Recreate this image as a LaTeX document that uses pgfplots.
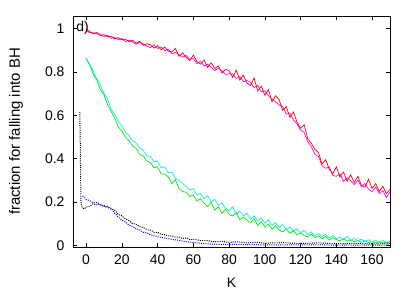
\documentclass[border=0pt]{standalone}
\usepackage{fontspec}
\setmainfont{Liberation Sans}
\usepackage{pgfplots}
\pgfplotsset{compat=1.18}
\usepackage{pgfplotstable}

\definecolor{gpred}{RGB}{255,0,0}
\definecolor{gpmag}{RGB}{255,0,255}
\definecolor{gpgreen}{RGB}{0,230,0}
\definecolor{gpcyan}{RGB}{0,240,240}
\definecolor{gpblue}{RGB}{0,0,255}

% fraction vs K, one table per curve
\pgfplotstableread{
K f
0 0.992
2 0.982
4 0.980
6 0.978
8 0.968
10 0.972
12 0.962
14 0.965
16 0.952
18 0.958
20 0.948
22 0.951
24 0.940
26 0.946
28 0.933
30 0.941
32 0.922
34 0.930
36 0.925
38 0.910
40 0.921
42 0.902
44 0.915
46 0.896
48 0.892
50 0.908
52 0.872
54 0.888
56 0.866
58 0.852
60 0.878
62 0.848
64 0.836
66 0.855
68 0.820
70 0.842
72 0.815
74 0.828
76 0.795
78 0.812
80 0.805
82 0.775
84 0.808
86 0.762
88 0.785
90 0.748
92 0.738
94 0.772
96 0.712
98 0.735
100 0.692
102 0.718
104 0.662
106 0.690
108 0.672
110 0.622
112 0.640
114 0.590
116 0.615
118 0.568
120 0.540
122 0.556
124 0.492
126 0.470
128 0.442
130 0.428
132 0.375
134 0.395
136 0.352
138 0.330
140 0.362
142 0.315
144 0.338
146 0.296
148 0.325
150 0.290
152 0.318
154 0.278
156 0.268
158 0.305
160 0.262
162 0.285
164 0.248
166 0.272
168 0.238
170 0.258
}\redtab

\pgfplotstableread{
K f
0 0.998
2 0.988
4 0.975
6 0.982
8 0.972
10 0.962
12 0.970
14 0.955
16 0.960
18 0.948
20 0.954
22 0.940
24 0.946
26 0.938
28 0.928
30 0.936
32 0.930
34 0.918
36 0.912
38 0.925
40 0.908
42 0.915
44 0.898
46 0.905
48 0.884
50 0.890
52 0.880
54 0.868
56 0.876
58 0.858
60 0.862
62 0.838
64 0.850
66 0.828
68 0.835
70 0.820
72 0.806
74 0.818
76 0.805
78 0.788
80 0.792
82 0.790
84 0.770
86 0.778
88 0.755
90 0.760
92 0.752
94 0.728
96 0.738
98 0.708
100 0.712
102 0.690
104 0.675
106 0.662
108 0.648
110 0.640
112 0.605
114 0.610
116 0.578
118 0.560
120 0.532
122 0.520
124 0.478
126 0.455
128 0.420
130 0.410
132 0.368
134 0.355
136 0.362
138 0.322
140 0.318
142 0.330
144 0.295
146 0.312
148 0.298
150 0.280
152 0.300
154 0.270
156 0.285
158 0.258
160 0.248
162 0.268
164 0.238
166 0.252
168 0.220
170 0.245
}\magtab

\pgfplotstableread{
K f
0 0.865
2 0.832
4 0.790
6 0.762
8 0.718
10 0.695
12 0.650
14 0.618
16 0.588
18 0.545
20 0.528
22 0.498
24 0.482
26 0.458
28 0.448
30 0.418
32 0.412
34 0.388
36 0.382
38 0.358
40 0.362
42 0.330
44 0.328
46 0.315
48 0.285
50 0.302
52 0.262
54 0.248
56 0.245
58 0.225
60 0.232
62 0.205
64 0.215
66 0.195
68 0.178
70 0.198
72 0.162
74 0.178
76 0.148
78 0.165
80 0.142
82 0.135
84 0.152
86 0.118
88 0.130
90 0.115
92 0.105
94 0.122
96 0.092
98 0.108
100 0.085
102 0.098
104 0.075
106 0.090
108 0.070
110 0.062
112 0.075
114 0.055
116 0.068
118 0.048
120 0.058
122 0.045
124 0.038
126 0.052
128 0.035
130 0.044
132 0.030
134 0.040
136 0.024
138 0.035
140 0.026
142 0.020
144 0.030
146 0.018
148 0.025
150 0.016
152 0.022
154 0.014
156 0.020
158 0.012
160 0.017
162 0.010
164 0.016
166 0.010
168 0.014
170 0.011
}\greentab

\pgfplotstableread{
K f
0 0.860
2 0.838
4 0.805
6 0.768
8 0.740
10 0.702
12 0.675
14 0.628
16 0.605
18 0.572
20 0.552
22 0.522
24 0.508
26 0.482
28 0.472
30 0.448
32 0.438
34 0.412
36 0.410
38 0.385
40 0.388
42 0.358
44 0.362
46 0.335
48 0.338
50 0.308
52 0.300
54 0.285
56 0.272
58 0.255
60 0.262
62 0.232
64 0.240
66 0.215
68 0.228
70 0.200
72 0.212
74 0.185
76 0.195
78 0.172
80 0.160
82 0.178
84 0.142
86 0.158
88 0.135
90 0.148
92 0.120
94 0.135
96 0.112
98 0.125
100 0.102
102 0.118
104 0.092
106 0.105
108 0.082
110 0.095
112 0.072
114 0.085
116 0.065
118 0.075
120 0.058
122 0.070
124 0.050
126 0.062
128 0.044
130 0.055
132 0.040
134 0.050
136 0.034
138 0.044
140 0.030
142 0.038
144 0.026
146 0.042
148 0.022
150 0.032
152 0.020
154 0.028
156 0.018
158 0.026
160 0.016
162 0.024
164 0.014
166 0.022
168 0.013
170 0.018
}\cyantab

\pgfplotstableread{
K f
-3.5 0.615
-3.2 0.450
-3.0 0.300
-2.8 0.190
-2 0.172
-1 0.168
0 0.176
2 0.180
4 0.192
6 0.186
8 0.188
10 0.178
12 0.180
14 0.168
16 0.162
18 0.142
20 0.136
22 0.122
24 0.114
26 0.100
28 0.097
30 0.086
32 0.082
34 0.072
36 0.070
38 0.060
40 0.060
42 0.050
44 0.049
46 0.043
48 0.044
50 0.037
52 0.038
54 0.031
56 0.034
58 0.026
60 0.028
64 0.022
68 0.021
72 0.016
76 0.018
80 0.013
85 0.016
90 0.011
95 0.013
100 0.010
110 0.012
120 0.008
130 0.011
140 0.007
150 0.009
160 0.006
170 0.008
}\blacktab

\pgfplotstableread{
K f
-2 0.225
-1 0.222
0 0.212
2 0.206
4 0.196
6 0.197
8 0.186
10 0.183
12 0.174
14 0.170
16 0.148
18 0.130
20 0.116
22 0.106
24 0.093
26 0.087
28 0.076
30 0.071
32 0.060
34 0.057
36 0.048
38 0.046
40 0.039
44 0.034
48 0.027
52 0.023
56 0.016
60 0.013
65 0.008
70 0.005
80 0.004
90 0.003
100 0.002
120 0.002
140 0.001
170 0.001
}\bluetab

\begin{document}
\begin{tikzpicture}
\begin{axis}[
    scale only axis,
    width=317bp, height=231bp,
    xmin=-7.3, xmax=170,
    ymin=-0.008, ymax=1.058,
    xtick={0,20,...,160},
    ytick={0,0.2,0.4,0.6,0.8,1},
    tick align=inside,
    major tick length=4bp,
    axis line style={line width=0.8bp},
    every tick/.style={black, line width=0.6bp},
    font=\fontsize{14}{17}\selectfont,
    /pgf/number format/assume math mode=true,
    xticklabel style={yshift=-4bp},
    yticklabel style={xshift=-5bp},
    xlabel={K},
    ylabel={fraction for falling into BH},
    every axis x label/.style={at={(axis description cs:0.5,-0.156)}, anchor=center},
    every axis y label/.style={at={(axis description cs:-0.180,0.5)}, rotate=90, anchor=center, font=\fontsize{15}{18}\selectfont},
    clip=true,
]
\addplot[gpmag, line width=0.7bp] table[x=K,y=f] {\magtab};
\addplot[gpred, line width=0.7bp] table[x=K,y=f] {\redtab};
\addplot[gpgreen, line width=0.7bp] table[x=K,y=f] {\greentab};
\addplot[gpcyan, line width=0.7bp] table[x=K,y=f] {\cyantab};
\addplot[black, line width=1bp, dash pattern=on 1bp off 1.2bp] table[x=K,y=f] {\blacktab};
\addplot[gpblue, line width=1bp, dash pattern=on 1bp off 1.2bp] table[x=K,y=f] {\bluetab};
\node[anchor=west, inner sep=0] at (rel axis cs:0.01,0.949) {d)};
\end{axis}
\pgfresetboundingbox
\path (current axis.south west) ++(-73bp,-44bp) coordinate (bbA);
\path (current axis.north east) ++(25bp,16bp) coordinate (bbB);
\useasboundingbox (bbA) rectangle (bbB);
\end{tikzpicture}
\end{document}
